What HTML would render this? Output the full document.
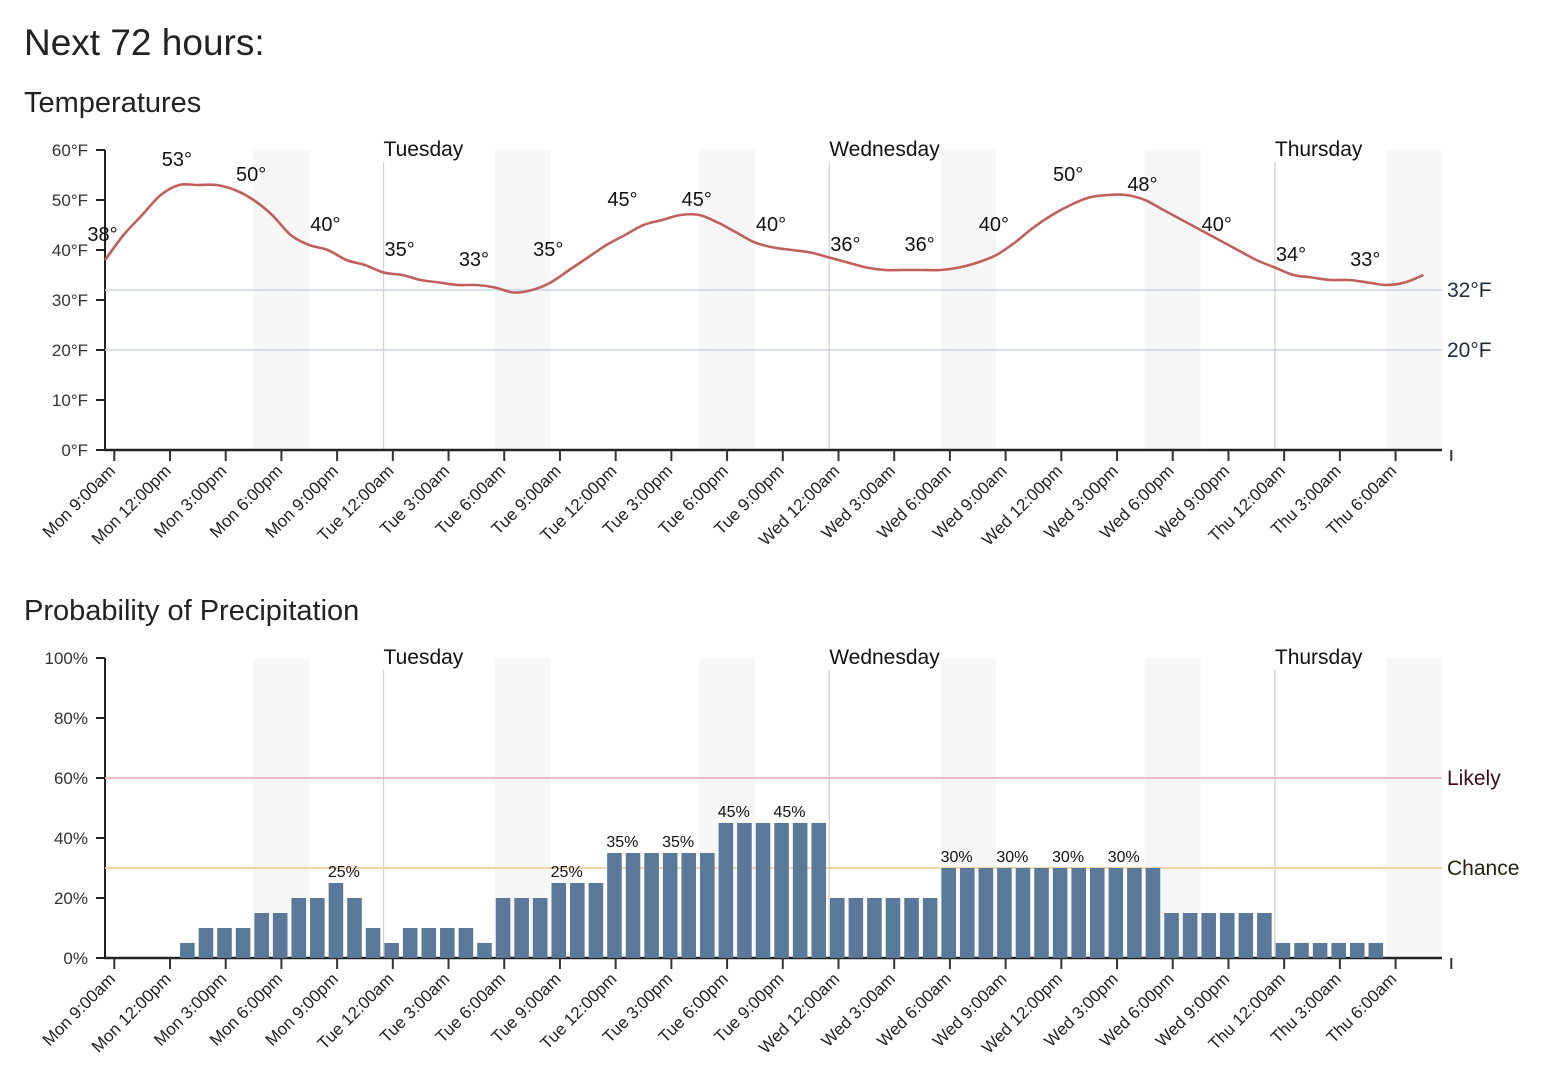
<!DOCTYPE html>
<html><head><meta charset="utf-8">
<style>
body{margin:0;background:#fff;width:1554px;height:1074px;overflow:hidden;font-family:"Liberation Sans",sans-serif;color:#222}
svg text{font-family:"Liberation Sans",sans-serif}
</style></head>
<body>
<svg id="chart" width="1554" height="1074" xmlns="http://www.w3.org/2000/svg">
<text x="24" y="55" font-size="37" fill="#222">Next 72 hours:</text>
<text x="24" y="112" font-size="29" fill="#222">Temperatures</text>
<text x="24" y="620" font-size="29" fill="#222">Probability of Precipitation</text>
<g id="temp"></g>
<g id="precip"></g>
</svg>
<script>
const tickLabels=["Mon 9:00am","Mon 12:00pm","Mon 3:00pm","Mon 6:00pm","Mon 9:00pm","Tue 12:00am","Tue 3:00am","Tue 6:00am","Tue 9:00am","Tue 12:00pm","Tue 3:00pm","Tue 6:00pm","Tue 9:00pm","Wed 12:00am","Wed 3:00am","Wed 6:00am","Wed 9:00am","Wed 12:00pm","Wed 3:00pm","Wed 6:00pm","Wed 9:00pm","Thu 12:00am","Thu 3:00am","Thu 6:00am",""];
const dayNames=["Tuesday","Wednesday","Thursday"];
const dayHours=[15,39,63];
const nightStarts=[8,21,32,45,56,69];
const temps=[38,43,47,51,53,53,53,52,50,47,43,41,40,38,37,35.5,35,34,33.5,33,33,32.5,31.5,32,33.5,36,38.5,41,43,45,46,47,47,45.5,43.5,41.5,40.5,40,39.5,38.5,37.5,36.5,36,36,36,36,36.5,37.5,39,41.5,44.5,47,49,50.5,51,51,50,48,46,44,42,40,38,36.5,35,34.5,34,34,33.5,33,33.5,35];
const tempLabelHours=[-1,3,7,11,15,19,23,27,31,35,39,43,47,51,55,59,63,67];
const tempLabelValues=[38,53,50,40,35,33,35,45,45,40,36,36,40,50,48,40,34,33];
const tempTicks=[0,10,20,30,40,50,60];
const precip=[0,0,0,0,5,10,10,10,15,15,20,20,25,20,10,5,10,10,10,10,5,20,20,20,25,25,25,35,35,35,35,35,35,45,45,45,45,45,45,20,20,20,20,20,20,30,30,30,30,30,30,30,30,30,30,30,30,15,15,15,15,15,15,5,5,5,5,5,5,0,0,0];
const precipLabelHours=[12,24,27,30,33,36,45,48,51,54];
const precipTicks=[0,20,40,60,80,100];

const NS="http://www.w3.org/2000/svg";
const X0=105,X1=1442,HW=(X1-X0)/72;
const xh=h=>X0+h*HW;
function mk(p,tag,attrs){const e=document.createElementNS(NS,tag);for(const k in attrs)e.setAttribute(k,attrs[k]);p.appendChild(e);return e;}

function frame(g,top,bottom,yfn,ticks,fmt){
  nightStarts.forEach(h=>{
    const r=mk(g,'rect',{x:xh(h),y:top,width:3*HW,height:bottom-top,fill:'#f7f7f7'});
    
    
  });
  dayHours.forEach((h,i)=>{
    const l=mk(g,'line',{x1:xh(h),x2:xh(h),y1:top+12,y2:bottom,stroke:'#cfcfcf','stroke-width':1.2});
    
    
    const t=mk(g,'text',{x:xh(h),y:top+6,'font-size':21,fill:'#111'});t.textContent=dayNames[i];
    
    
  });
  ticks.forEach(v=>{
    const y=yfn(v);
    mk(g,'line',{x1:96,x2:X0,y1:y,y2:y,stroke:'#222','stroke-width':2});
    const t=mk(g,'text',{x:88,y:y+6,'font-size':17,fill:'#333','text-anchor':'end'});t.textContent=fmt(v);
    
    
  });
  mk(g,'line',{x1:X0,x2:X0,y1:top,y2:bottom+1,stroke:'#222','stroke-width':2});
  mk(g,'line',{x1:X0-1,x2:X1,y1:bottom,y2:bottom,stroke:'#222','stroke-width':2.5});
  tickLabels.forEach((lab,i)=>{
    const x=xh(i*3+0.5);
    mk(g,'line',{x1:x,x2:x,y1:bottom,y2:bottom+11,stroke:'#333','stroke-width':2});
    if(lab){const t=mk(g,'text',{x:0,y:0,'font-size':17,fill:'#222','text-anchor':'end',transform:`translate(${x+2},${bottom+22}) rotate(-45)`});t.textContent=lab;
      
      }
  });
}

// Temperature
const tg=document.getElementById('temp');
const TT=150,TB=450,ty=v=>TB-(v/60)*(TB-TT);
frame(tg,TT,TB,ty,tempTicks,v=>v+'°F');
[[32,'32°F'],[20,'20°F']].forEach(([v,l])=>{
  const y=ty(v);
  const ln=mk(tg,'line',{x1:X0,x2:1442,y1:y,y2:y,stroke:'#c8d6e4','stroke-width':1.5});
  
  
  const t=mk(tg,'text',{x:1447,y:y+7,'font-size':21,fill:'#1f2d3a'});t.textContent=l;
  
  
});
let d='';
const pts=temps.map((v,i)=>[xh(i),ty(v)]);
d='M'+pts[0][0]+','+pts[0][1];
for(let i=0;i<pts.length-1;i++){
  const p0=pts[Math.max(0,i-1)],p1=pts[i],p2=pts[i+1],p3=pts[Math.min(pts.length-1,i+2)];
  const c1=[p1[0]+(p2[0]-p0[0])/6,p1[1]+(p2[1]-p0[1])/6],c2=[p2[0]-(p3[0]-p1[0])/6,p2[1]-(p3[1]-p1[1])/6];
  d+=`C${c1[0]},${c1[1]} ${c2[0]},${c2[1]} ${p2[0]},${p2[1]}`;
}
const line=mk(tg,'path',{d:d,fill:'none',stroke:'#c0605c','stroke-width':2.6});


tempLabelHours.forEach((h,i)=>{
  const t=mk(tg,'text',{x:xh(h)+1,y:ty(tempLabelValues[i])-19,'font-size':20,fill:'#111'});t.textContent=tempLabelValues[i]+'°';
  
  
});

// Precip
const pg=document.getElementById('precip');
const PT=658,PB=958,py=v=>PB-(v/100)*(PB-PT);
frame(pg,PT,PB,py,precipTicks,v=>v+'%');
[[60,'Likely','#e8b3b8','#3a0d1a'],[30,'Chance','#f0cf9a','#2a2010']].forEach(([v,l,c,tc])=>{
  const y=py(v);
  const ln=mk(pg,'line',{x1:X0,x2:1442,y1:y,y2:y,stroke:c,'stroke-width':1.8});
  
  
  const t=mk(pg,'text',{x:1447,y:y+7,'font-size':21,fill:tc});t.textContent=l;
  
  
});
precip.forEach((v,i)=>{
  if(v<=0)return;
  const r=mk(pg,'rect',{x:xh(i)+0.8,y:py(v),width:HW-4,height:PB-py(v),fill:'#5a7899'});
  
  
});
precipLabelHours.forEach(h=>{
  const t=mk(pg,'text',{x:xh(h),y:py(precip[h])-6,'font-size':16,fill:'#111'});t.textContent=precip[h]+'%';
  
  
});
</script>
</body></html>
